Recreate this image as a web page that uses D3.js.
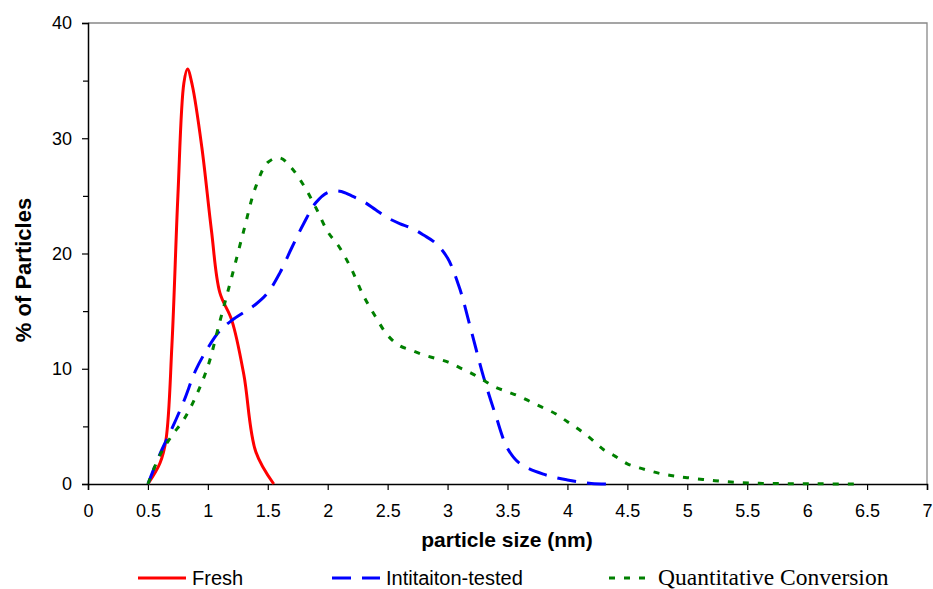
<!DOCTYPE html>
<html>
<head>
<meta charset="utf-8">
<script src="https://cdn.jsdelivr.net/npm/d3@7"></script>
<style>
  body { margin: 0; background: #fff; }
  svg { display: block; }
</style>
</head>
<body>
<svg id="chart"></svg>
<script>
// particle size (nm) vs % of particles
const freshX = [0.5, 0.6, 0.65, 0.7, 0.75, 0.8, 0.83, 0.87, 0.95, 1.03, 1.1, 1.2, 1.3, 1.4, 1.55]
const freshY = [0, 1.8, 3.8, 12, 25, 34.8, 36, 34.6, 29.2, 22, 16.6, 14.2, 9.5, 2.8, 0]

const initX = [0.5, 0.6, 0.7, 0.8, 0.9, 1.0, 1.1, 1.2, 1.4, 1.5, 1.6, 1.7, 1.8, 1.9, 2.0, 2.1, 2.2, 2.3, 2.4, 2.5, 2.6, 2.7, 2.8, 2.9, 3.0, 3.1, 3.2, 3.3, 3.4, 3.5, 3.6, 3.8, 4.0, 4.2, 4.4]
const initY = [0, 2.6, 4.8, 7.2, 9.9, 11.8, 13.3, 14.2, 15.6, 16.6, 18.3, 20.5, 22.6, 24.4, 25.3, 25.4, 25, 24.5, 23.8, 23.1, 22.6, 22.2, 21.6, 20.9, 19.6, 17, 13.2, 9.3, 6, 3.1, 1.8, 0.85, 0.35, 0.05, 0]

const quantX = [0.5, 0.6, 0.7, 0.8, 0.9, 1.0, 1.1, 1.2, 1.3, 1.4, 1.5, 1.6, 1.7, 1.8, 1.9, 2.0, 2.1, 2.2, 2.3, 2.4, 2.5, 2.6, 2.7, 2.8, 2.9, 3.0, 3.1, 3.2, 3.3, 3.4, 3.5, 3.6, 3.7, 3.8, 3.9, 4.0, 4.1, 4.2, 4.3, 4.4, 4.5, 4.6, 4.7, 4.8, 4.9, 5.0, 5.2, 5.4, 5.6, 5.8, 6.0, 6.2, 6.45]
const quantY = [0, 2.5, 4.2, 5.6, 7.6, 10.2, 14.1, 18, 22, 25.8, 27.9, 28.3, 27.4, 25.9, 24, 21.9, 20.5, 18.6, 16.3, 14.5, 12.9, 12.0, 11.6, 11.2, 10.9, 10.6, 10.1, 9.6, 9.0, 8.4, 8.0, 7.6, 7.1, 6.6, 6.1, 5.4, 4.7, 3.9, 3.0, 2.4, 1.75, 1.4, 1.1, 0.85, 0.68, 0.55, 0.32, 0.14, 0.06, 0.03, 0.02, 0.01, 0]

const seriesNames = ['Fresh', 'Intitaiton-tested', 'Quantitative Conversion']
const xTicks = [0, 0.5, 1, 1.5, 2, 2.5, 3, 3.5, 4, 4.5, 5, 5.5, 6, 6.5, 7]
const yTicks = [0, 10, 20, 30, 40]

const series = [
  { name: seriesNames[0], xs: freshX, ys: freshY, color: '#ff0000', dash: null, font: 'Liberation Sans, Arial, sans-serif', fsize: 20 },
  { name: seriesNames[1], xs: initX, ys: initY, color: '#0000ff', dash: '19,11', font: 'Liberation Sans, Arial, sans-serif', fsize: 20 },
  { name: seriesNames[2], xs: quantX, ys: quantY, color: '#008000', dash: '6,9', font: 'Liberation Serif, Times New Roman, serif', fsize: 23.5 }
]

const W = 933, H = 589
const plotL = 88, plotR = 927, plotT = 23, plotB = 484

const svg = d3.select('#chart').attr('width', W).attr('height', H)

const x = d3.scaleLinear().domain([0, 7]).range([plotL, plotR])
const y = d3.scaleLinear().domain([0, 40]).range([plotB, plotT])

// plot area frame (grey top and right)
svg.append('path')
  .attr('d', `M${plotL},${plotT}H${plotR}V${plotB}`)
  .attr('fill', 'none').attr('stroke', '#888').attr('stroke-width', 1.3)

const font = 'Liberation Sans, Arial, sans-serif'

// x axis
const xAxis = svg.append('g')
  .attr('transform', `translate(0,${plotB})`)
  .call(d3.axisBottom(x).tickValues(xTicks).tickSize(6).tickPadding(14).tickFormat(d3.format('')))
xAxis.select('.domain').attr('stroke', '#000').attr('stroke-width', 1.5)
xAxis.selectAll('.tick line').attr('stroke', '#000').attr('stroke-width', 1.2)
xAxis.selectAll('text').attr('font-family', font).attr('font-size', 18).attr('fill', '#000')

// y axis, with minor ticks between labels
const yAxisMinor = svg.append('g')
  .attr('transform', `translate(${plotL},0)`)
  .call(d3.axisLeft(y).tickValues([5, 15, 25, 35]).tickSize(5).tickFormat(''))
yAxisMinor.select('.domain').remove()
yAxisMinor.selectAll('.tick line').attr('stroke', '#000').attr('stroke-width', 1.2)

const yAxis = svg.append('g')
  .attr('transform', `translate(${plotL},0)`)
  .call(d3.axisLeft(y).tickValues(yTicks).tickSize(6).tickPadding(10))
yAxis.select('.domain').attr('stroke', '#000').attr('stroke-width', 1.5)
yAxis.selectAll('.tick line').attr('stroke', '#000').attr('stroke-width', 1.2)
yAxis.selectAll('text').attr('font-family', font).attr('font-size', 18).attr('fill', '#000')

// axis titles
svg.append('text')
  .attr('x', 507).attr('y', 547)
  .attr('text-anchor', 'middle')
  .attr('font-family', font).attr('font-weight', 'bold').attr('font-size', 21)
  .text('particle size (nm)')

svg.append('text')
  .attr('transform', 'translate(31,270) rotate(-90)')
  .attr('text-anchor', 'middle')
  .attr('font-family', font).attr('font-weight', 'bold').attr('font-size', 22)
  .text('% of Particles')

// lines (smoothed like the original)
const line = d3.line()
  .x((d) => x(d[0]))
  .y((d) => y(Math.max(0, d[1])))
  .curve(d3.curveCatmullRom.alpha(0.5))

series.forEach((s) => {
  const pts = s.xs.map((v, i) => [v, s.ys[i]])
  svg.append('path')
    .datum(pts)
    .attr('d', line)
    .attr('fill', 'none')
    .attr('stroke', s.color)
    .attr('stroke-width', 3)
    .attr('stroke-dasharray', s.dash)
})

// legend
const legendX = [138, 332, 609]
const lg = svg.selectAll('.legend').data(series).join('g')
  .attr('class', 'legend')
  .attr('transform', (d, i) => `translate(${legendX[i]},578)`)

lg.append('line')
  .attr('x1', 0).attr('x2', (d, i) => i == 2 ? 42 : 48)
  .attr('y1', 0).attr('y2', 0)
  .attr('stroke', (d) => d.color)
  .attr('stroke-width', 3)
  .attr('stroke-dasharray', (d) => d.dash)

lg.append('text')
  .attr('x', (d, i) => i == 2 ? 49 : 54)
  .attr('y', 7)
  .attr('font-family', (d) => d.font)
  .attr('font-size', (d) => d.fsize)
  .attr('fill', '#000')
  .text((d) => d.name)
</script>
</body>
</html>
